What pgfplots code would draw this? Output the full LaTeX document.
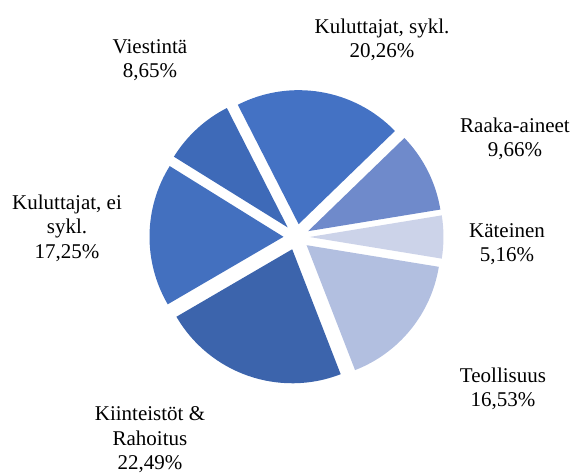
\documentclass[border=0pt]{standalone}
\usepackage{fontspec}
\setmainfont{Liberation Serif}
\usepackage{pgfplots}
\usepackage{pgfplotstable}
\pgfplotsset{compat=1.18}
\definecolor{c0}{HTML}{4472C4}
\definecolor{c1}{HTML}{6F8ACB}
\definecolor{c2}{HTML}{CCD3E9}
\definecolor{c3}{HTML}{B2BFE0}
\definecolor{c4}{HTML}{3C64AC}
\definecolor{c5}{HTML}{4370BF}
\definecolor{c6}{HTML}{3E6AB8}
\pgfplotstableread{
idx value
0 20.26
1 9.66
2 5.16
3 16.53
4 22.49
5 17.25
6 8.65
}\piedata
\begin{document}
\begin{tikzpicture}
\begin{axis}[scale only axis, width=576pt, height=475pt, xmin=0, xmax=576, ymin=0, ymax=475, hide axis, clip=false]
\path (axis cs:0,0) rectangle (axis cs:576,475);
\pgfplotsextra{
 \xdef\cum{0}
 \foreach \i in {0,...,6}{
   \pgfplotstablegetelem{\i}{value}\of\piedata
   \pgfmathsetmacro\va{\pgfplotsretval}
   \pgfmathsetmacro\sa{117-3.6*\cum}
   \pgfmathsetmacro\ea{\sa-3.6*\va}
   \pgfmathsetmacro\ma{(\sa+\ea)/2}
   \fill[c\i] (axis cs:296.5,238) ++(\ma:13pt) -- ++(\sa:134pt) arc[start angle=\sa, end angle=\ea, radius=134pt] -- cycle;
   \pgfmathsetmacro\nc{\cum+\va}
   \xdef\cum{\nc}
 }
}
\tikzset{lab/.style={align=center, inner sep=0pt, font=\fontsize{21}{24.5}\selectfont}}
\node[lab] at (axis cs:150,415) {Viestintä\\8,65\%};
\node[lab] at (axis cs:382,435) {Kuluttajat, sykl.\\20,26\%};
\node[lab] at (axis cs:515,336) {Raaka-aineet\\9,66\%};
\node[lab] at (axis cs:507,231) {Käteinen\\5,16\%};
\node[lab] at (axis cs:503,86) {Teollisuus\\16,53\%};
\node[lab] at (axis cs:150,35) {Kiinteistöt \&\\Rahoitus\\22,49\%};
\node[lab] at (axis cs:67,247) {Kuluttajat, ei\\sykl.\\17,25\%};
\end{axis}
\end{tikzpicture}
\end{document}
